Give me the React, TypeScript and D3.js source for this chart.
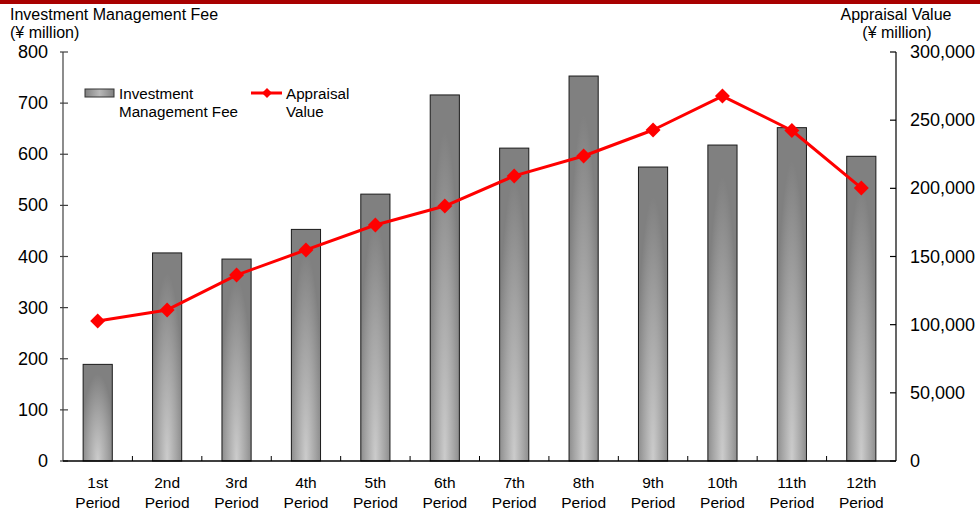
import React from "react";
import * as d3 from "d3";

const categories = ["1st", "2nd", "3rd", "4th", "5th", "6th", "7th", "8th", "9th", "10th", "11th", "12th"];
const feeValues = [189, 407, 395, 453, 522, 716, 612, 753, 575, 618, 652, 596];
const appraisalValues = [102700, 110800, 136400, 154800, 173100, 187000, 209100, 223700, 242800, 267700, 242400, 200300];
const leftTicks = [0, 100, 200, 300, 400, 500, 600, 700, 800];
const rightTicks = [0, 50000, 100000, 150000, 200000, 250000, 300000];

const W = 980, H = 515;
const M = { left: 63, right: 896, top: 52, bottom: 461 };
const FONT = "'Liberation Sans', Arial, sans-serif";

export default function App() {
  const x = d3.scaleBand<string>().domain(categories).range([M.left, M.right]).paddingInner(0).paddingOuter(0);
  const yL = d3.scaleLinear().domain([0, 800]).range([M.bottom, M.top]);
  const yR = d3.scaleLinear().domain([0, 300000]).range([M.bottom, M.top]);
  const bw = x.bandwidth() * 0.42;
  const fmt = d3.format(",");
  const line = d3.line<number>()
    .x((_, i) => (x(categories[i]) as number) + x.bandwidth() / 2)
    .y((d) => yR(d));
  const diamond = (cx: number, cy: number, r: number) => `M${cx},${cy - r}L${cx + r},${cy}L${cx},${cy + r}L${cx - r},${cy}Z`;

  return (
    <svg width={W} height={H} style={{ position: "absolute", left: 0, top: 0, display: "block", background: "#fff" }} fontFamily={FONT}>
      <defs>
        <radialGradient id="barGrad" cx="0.5" cy="1" r="0.6" gradientTransform="translate(0.5 1) scale(1 1.5) translate(-0.5 -1)">
          <stop offset="0" stopColor="#cccccc" />
          <stop offset="0.55" stopColor="#a4a4a4" />
          <stop offset="1" stopColor="#808080" />
        </radialGradient>
        <linearGradient id="legGrad" x1="0" x2="1" y1="0" y2="0">
          <stop offset="0" stopColor="#808080" />
          <stop offset="0.5" stopColor="#b8b8b8" />
          <stop offset="1" stopColor="#808080" />
        </linearGradient>
      </defs>
      <rect x={0} y={0} width={W} height={4} fill="#a80000" />

      {/* titles */}
      <text x={10} y={20} fontSize={16} fill="#000">Investment Management Fee</text>
      <text x={10} y={38} fontSize={16} fill="#000">(¥ million)</text>
      <text x={896} y={20} fontSize={16} fill="#000" textAnchor="middle">Appraisal Value</text>
      <text x={897} y={38} fontSize={16} fill="#000" textAnchor="middle">(¥ million)</text>

      {/* bars */}
      {feeValues.map((v, i) => {
        const cx = (x(categories[i]) as number) + x.bandwidth() / 2;
        return (
          <rect key={i} x={cx - bw / 2} y={yL(v)} width={bw} height={M.bottom - yL(v)}
            fill="url(#barGrad)" stroke="#1a1a1a" strokeWidth={1} />
        );
      })}

      {/* axes */}
      <line x1={M.left} x2={M.left} y1={M.top} y2={M.bottom} stroke="#404040" strokeWidth={1.2} />
      {leftTicks.map((t) => (
        <g key={t}>
          <line x1={M.left - 3} x2={M.left + 5} y1={yL(t)} y2={yL(t)} stroke="#404040" strokeWidth={1.2} />
          <text x={48} y={yL(t) + 6} fontSize={18} textAnchor="end" fill="#000">{t}</text>
        </g>
      ))}
      <line x1={M.right} x2={M.right} y1={M.top} y2={M.bottom} stroke="#000" strokeWidth={1.2} />
      {rightTicks.map((t) => (
        <g key={t}>
          <line x1={M.right - 6} x2={M.right} y1={yR(t)} y2={yR(t)} stroke="#000" strokeWidth={1.2} />
          <text x={910} y={yR(t) + 6} fontSize={18} textAnchor="start" fill="#000">{fmt(t)}</text>
        </g>
      ))}
      <line x1={M.left} x2={M.right} y1={M.bottom} y2={M.bottom} stroke="#000" strokeWidth={1.5} />
      {categories.slice(1).map((c) => (
        <line key={c} x1={x(c) as number} x2={x(c) as number} y1={M.bottom} y2={M.bottom - 5} stroke="#000" strokeWidth={1} />
      ))}
      {categories.map((c) => {
        const cx = (x(c) as number) + x.bandwidth() / 2;
        return (
          <g key={c}>
            <text x={cx} y={488} fontSize={15.5} textAnchor="middle" fill="#000">{c}</text>
            <text x={cx} y={508} fontSize={15.5} textAnchor="middle" fill="#000">Period</text>
          </g>
        );
      })}

      {/* line */}
      <path d={line(appraisalValues) || ""} fill="none" stroke="#ff0000" strokeWidth={3} strokeLinejoin="round" />
      {appraisalValues.map((v, i) => {
        const cx = (x(categories[i]) as number) + x.bandwidth() / 2;
        return <path key={i} d={diamond(cx, yR(v), 7.5)} fill="#ff0000" />;
      })}

      {/* legend */}
      <rect x={85} y={89} width={29} height={8} fill="url(#legGrad)" stroke="#333" strokeWidth={1} />
      <text x={119} y={99} fontSize={15.2} fill="#000">Investment</text>
      <text x={119} y={117} fontSize={15.2} fill="#000">Management Fee</text>
      <line x1={251} x2={282} y1={93} y2={93} stroke="#ff0000" strokeWidth={3} />
      <path d={diamond(267, 93, 5)} fill="#ff0000" />
      <text x={286} y={99} fontSize={15.2} fill="#000">Appraisal</text>
      <text x={286} y={117} fontSize={15.2} fill="#000">Value</text>
    </svg>
  );
}
